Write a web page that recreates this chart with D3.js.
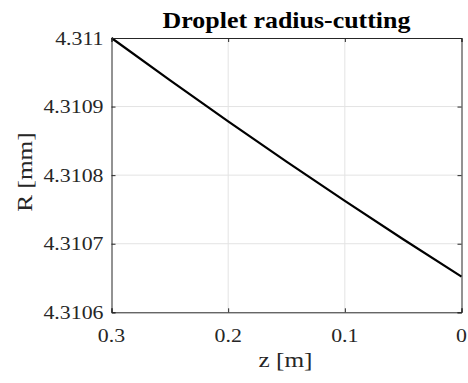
<!DOCTYPE html>
<html><head><meta charset="utf-8">
<script src="https://cdn.jsdelivr.net/npm/d3@7"></script>
<style>body{margin:0;background:#fff}svg{display:block}text{font-family:"Liberation Serif","Times New Roman",serif}</style>
</head><body>
<script>
const zValues = [0.3, 0.25, 0.2, 0.15, 0.1, 0.05, 0];
const rValues = [4.311, 4.3109385, 4.3108784, 4.3108197, 4.3107624, 4.3107065, 4.310652];
const xTicks = [0.3, 0.2, 0.1, 0];
const xTickLabels = ["0.3", "0.2", "0.1", "0"];
const yTicks = [4.3106, 4.3107, 4.3108, 4.3109, 4.311];
const yTickLabels = ["4.3106", "4.3107", "4.3108", "4.3109", "4.311"];
const title = "Droplet radius-cutting";
const xLabel = "z [m]";
const yLabel = "R [mm]";

const W = 468, H = 383;
const L = 111.5, R = 461.5, T = 38, B = 312.3;
const svg = d3.select("body").append("svg").attr("width", W).attr("height", H);
const x = d3.scaleLinear().domain([0.3, 0]).range([L, R]);
const y = d3.scaleLinear().domain([4.3106, 4.311]).range([B, T]);
const axisColor = "#262626";

// grid
const g = svg.append("g");
g.selectAll(".gx").data(xTicks.slice(1, -1)).enter().append("line")
  .attr("x1", d => x(d)).attr("x2", d => x(d)).attr("y1", T).attr("y2", B)
  .attr("stroke", "#e3e3e3").attr("stroke-width", 1);
g.selectAll(".gy").data(yTicks.slice(1, -1)).enter().append("line")
  .attr("y1", d => y(d)).attr("y2", d => y(d)).attr("x1", L).attr("x2", R)
  .attr("stroke", "#e3e3e3").attr("stroke-width", 1);

// line
const line = d3.line().x((d, i) => x(zValues[i])).y(d => y(d)).curve(d3.curveMonotoneX);
svg.append("path").datum(rValues).attr("d", line)
  .attr("fill", "none").attr("stroke", "#000").attr("stroke-width", 2.2);

// axes with inward ticks
const tl = 4;
const axB = d3.axisBottom(x).tickValues(xTicks).tickSize(-tl).tickFormat("");
const axT = d3.axisTop(x).tickValues(xTicks).tickSize(-tl).tickFormat("");
const axLf = d3.axisLeft(y).tickValues(yTicks).tickSize(-tl).tickFormat("");
const axRt = d3.axisRight(y).tickValues(yTicks).tickSize(-tl).tickFormat("");
[[axB, `translate(0,${B})`], [axT, `translate(0,${T})`], [axLf, `translate(${L},0)`], [axRt, `translate(${R},0)`]]
  .forEach(([a, t]) => {
    const ga = svg.append("g").attr("transform", t).call(a);
    ga.selectAll("path,line").attr("stroke", axisColor).attr("stroke-width", 1);
  });

// tick labels
svg.append("g").selectAll("text").data(xTicks).enter().append("text")
  .attr("transform", d => `translate(${x(d)},${341.5}) scale(1.15,1)`)
  .attr("text-anchor", "middle").style("font-size", "19px")
  .attr("fill", axisColor).text((d, i) => xTickLabels[i]);
svg.append("g").selectAll("text").data(yTicks).enter().append("text")
  .attr("transform", d => `translate(${L - 8},${y(d) + 6.5}) scale(1.15,1)`)
  .attr("text-anchor", "end").style("font-size", "19px")
  .attr("fill", axisColor).text((d, i) => yTickLabels[i]);

// title
svg.append("text").attr("transform", `translate(${(L + R) / 2},27.7) scale(1.08,1)`)
  .attr("text-anchor", "middle").style("font-weight", "bold")
  .style("font-size", "24px").attr("fill", "#000").text(title);

// axis labels
svg.append("text").attr("transform", `translate(${(L + R) / 2 - 1},367) scale(1.15,1)`)
  .attr("text-anchor", "middle").style("font-size", "22px")
  .attr("fill", axisColor).text(xLabel);
svg.append("text").attr("transform", `translate(31.5,172) rotate(-90) scale(1.15,1)`)
  .attr("text-anchor", "middle").style("font-size", "22px")
  .attr("fill", axisColor).text(yLabel);
</script>
</body></html>
